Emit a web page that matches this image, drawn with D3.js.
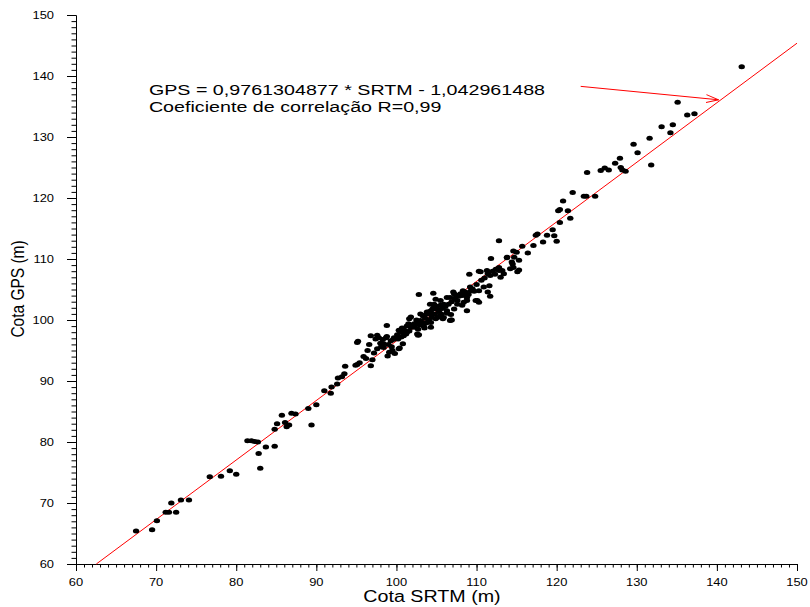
<!DOCTYPE html>
<html>
<head>
<meta charset="utf-8">
<script src="https://cdn.jsdelivr.net/npm/d3@7"></script>
<style>
  body { margin: 0; background: #fff; }
  text { font-family: "Liberation Sans", Arial, sans-serif; fill: #000; }
</style>
</head>
<body>
<script>
var w = 810;
var h = 607;

// tick values
var xMajor = [60, 70, 80, 90, 100, 110, 120, 130, 140, 150];
var yMajor = [60, 70, 80, 90, 100, 110, 120, 130, 140, 150];

// regression
var slope = 0.9761304877;
var intercept = -1.042961488;
var eqText = "GPS = 0,9761304877 * SRTM - 1,042961488";
var rText = "Coeficiente de correlação R=0,99";

// points (SRTM, GPS)
var srtm = [67.5, 69.5, 70.1, 71.2, 71.6, 71.9, 72.5, 73.1, 74.1, 76.7, 78.1, 79.2, 80.0, 81.4, 81.9, 82.3, 82.7, 82.8, 83.0, 83.7,
  84.8, 84.8, 85.1, 85.7, 86.1, 86.3, 86.6, 86.9, 87.4, 89.0, 89.4, 90.0, 91.0, 91.8, 91.9, 92.6, 92.7, 93.2, 93.5, 93.6,
  94.9, 95.1, 95.4, 95.9, 96.2, 96.4, 96.8, 97.0, 95.2, 95.1, 96.8, 97.4, 97.6, 97.8, 98.0, 98.3, 98.7, 98.4, 98.8, 99.3,
  99.7, 100.1, 100.5, 100.9, 101.2, 99.4, 99.1, 99.8, 100.4, 100.8, 98.8, 98.4, 98.9, 99.5, 100.3, 100.3, 100.7, 101.3, 101.8, 101.5,
  101.6, 102.2, 102.7, 102.4, 103.0, 103.3, 103.7, 103.5, 104.0, 104.3, 104.7, 104.5, 104.9, 105.1, 102.8, 104.6, 104.9, 104.2, 105.5, 105.9,
  106.3, 106.3, 106.8, 106.9, 105.5, 105.8, 105.1, 107.1, 107.4, 107.6, 108.0, 108.3, 108.7, 108.8, 109.2, 109.7, 110.1, 109.1, 110.3, 101.8,
  102.2, 102.7, 102.8, 103.4, 104.1, 104.3, 104.9, 105.6, 105.9, 106.3, 106.8, 103.0, 103.8, 111.6, 111.4, 111.7, 110.9, 110.3, 109.9, 110.3,
  109.3, 108.8, 108.4, 107.2, 106.7, 105.5, 104.7, 104.3, 103.8, 103.4, 102.6, 101.3, 100.9, 106.7, 104.3, 102.6, 107.2, 107.6, 108.2, 108.8,
  110.5, 111.8, 113.8, 115.0, 112.8, 113.4, 114.2, 113.0, 115.1, 114.5, 111.3, 111.7, 112.4, 112.8, 113.2, 114.4, 114.6, 115.3, 114.7, 113.8,
  115.3, 112.8, 114.6, 115.7, 116.4, 117.1, 117.4, 117.6, 118.3, 118.8, 119.5, 119.7, 120.0, 120.4, 120.2, 120.4, 121.4, 121.7, 120.8, 122.0,
  123.4, 123.7, 124.8, 123.8, 125.5, 126.0, 126.5, 127.3, 127.9, 128.0, 128.2, 128.6, 129.6, 130.1, 131.6, 131.8, 133.1, 134.2, 134.5, 135.1,
  136.3, 137.2, 143.1, 99.0, 99.6, 100.2, 100.6, 101.0, 101.6, 102.0, 102.5, 102.9, 103.2, 103.6, 104.0, 104.4, 104.8, 105.3, 105.7, 106.1,
  106.5, 106.9, 107.3, 107.8, 108.2, 108.6, 109.0, 109.5, 110.0, 110.6, 111.0, 111.4, 112.0, 112.3, 97.2, 97.6, 98.1, 96.6];
var gps = [65.4, 65.6, 67.1, 68.5, 68.5, 70.0, 68.5, 70.5, 70.5, 74.3, 74.4, 75.3, 74.7, 80.2, 80.2, 80.1, 80.0, 78.1, 75.7, 79.2,
  79.3, 82.1, 83.0, 84.4, 83.2, 82.5, 82.8, 84.7, 84.6, 85.5, 82.8, 86.1, 88.4, 88.0, 89.0, 89.5, 90.5, 90.7, 91.2, 92.4,
  92.6, 92.7, 93.0, 94.0, 93.7, 95.0, 92.5, 93.5, 96.5, 96.3, 97.4, 96.9, 97.5, 97.1, 96.2, 96.8, 97.1, 96.1, 97.3, 96.6,
  97.1, 97.6, 98.0, 98.5, 97.7, 95.6, 94.7, 94.5, 95.4, 96.1, 99.1, 95.5, 94.1, 95.0, 95.3, 98.3, 98.7, 99.0, 98.8, 99.4,
  100.2, 98.8, 97.5, 99.3, 99.9, 100.7, 99.5, 98.7, 100.0, 101.0, 102.1, 101.8, 102.3, 101.8, 104.2, 104.4, 103.4, 102.6, 103.2, 102.6,
  103.7, 101.5, 100.9, 100.0, 100.7, 100.2, 100.4, 104.6, 104.1, 103.2, 104.3, 104.8, 104.0, 103.2, 105.4, 104.7, 103.2, 107.5, 108.0, 100.5,
  99.4, 98.5, 97.6, 99.0, 99.7, 98.8, 100.2, 101.0, 100.4, 101.1, 100.0, 101.0, 101.3, 105.6, 104.6, 103.9, 105.4, 104.8, 103.2, 102.9,
  104.8, 103.7, 102.9, 104.3, 103.7, 102.4, 102.6, 101.5, 101.0, 100.7, 99.6, 98.0, 97.4, 99.9, 99.6, 97.7, 101.8, 102.6, 102.4, 101.5,
  107.9, 110.1, 110.3, 111.1, 108.1, 107.6, 108.4, 107.0, 107.9, 109.2, 108.1, 107.3, 108.3, 108.6, 108.1, 109.5, 108.6, 109.8, 110.3, 110.2,
  108.2, 113.0, 111.3, 112.1, 111.0, 112.2, 113.9, 114.1, 112.8, 113.9, 114.8, 113.8, 112.9, 116.0, 117.9, 118.1, 117.9, 116.7, 119.5, 120.9,
  120.3, 120.3, 120.3, 124.2, 124.5, 124.9, 124.6, 125.7, 126.5, 125.0, 124.6, 124.4, 128.8, 127.4, 129.8, 125.4, 131.7, 130.7, 132.0, 135.7,
  133.6, 133.8, 141.5, 96.0, 96.8, 96.9, 97.2, 98.2, 98.2, 99.0, 100.0, 99.2, 99.6, 100.3, 101.3, 100.4, 101.0, 101.4, 101.9, 102.2,
  102.6, 103.0, 103.5, 103.9, 104.0, 104.6, 104.2, 105.1, 105.8, 106.5, 106.9, 107.6, 108.0, 107.5, 94.6, 95.3, 95.6, 96.0];

// annotation anchors, in data units
var arrowFrom = [123.0, 138.3];
var arrowTo = [140.2, 136.1];
var labelAt = [69.1, 136.95];

var stretch = 1.23; // the picture is wider than tall, text too
var noteSize = 14.8;
var noteStretch = 1.33;

var points = srtm.map(function(v, i) {
  return { x: v, y: gps[i] };
});

var svg = d3.select("body")
  .append("svg")
  .attr("width", w)
  .attr("height", h);

svg.append("rect")
  .attr("width", "100%")
  .attr("height", "100%")
  .attr("fill", "#fff");

var x = d3.scaleLinear().domain([60, 150]).range([76, 797]);
var y = d3.scaleLinear().domain([60, 150]).range([564, 15]);

// open arrow head
svg.append("defs").append("marker")
  .attr("id", "head")
  .attr("viewBox", "0 -5 13 10")
  .attr("refX", 12.5)
  .attr("refY", 0)
  .attr("markerWidth", 13)
  .attr("markerHeight", 10)
  .attr("markerUnits", "userSpaceOnUse")
  .attr("orient", "auto")
  .append("path")
  .attr("d", "M0,-4L12.5,0L0,4")
  .attr("fill", "none")
  .attr("stroke", "red")
  .attr("stroke-width", 1);

// minor + major ticks
var minorX = d3.range(60, 151, 1);
var minorY = d3.range(60, 151, 1);

function drawAxis(g) {
  g.selectAll("line").attr("stroke", "#000");
  g.selectAll("path").attr("stroke", "#000");
  g.selectAll("text").remove();
}

svg.append("g")
  .attr("transform", "translate(0," + y(60) + ")")
  .call(d3.axisBottom(x).tickValues(minorX).tickSize(3.5).tickSizeOuter(0).tickFormat(""))
  .call(drawAxis);
svg.append("g")
  .attr("transform", "translate(0," + y(60) + ")")
  .call(d3.axisBottom(x).tickValues(xMajor).tickSize(7).tickSizeOuter(0).tickFormat(""))
  .call(drawAxis);

svg.append("g")
  .attr("transform", "translate(" + x(60) + ",0)")
  .call(d3.axisLeft(y).tickValues(minorY).tickSize(4.5).tickSizeOuter(0).tickFormat(""))
  .call(drawAxis);
svg.append("g")
  .attr("transform", "translate(" + x(60) + ",0)")
  .call(d3.axisLeft(y).tickValues(yMajor).tickSize(9).tickSizeOuter(0).tickFormat(""))
  .call(drawAxis);

// tick labels (stretched like the source)
svg.selectAll(".xl")
  .data(xMajor)
  .enter()
  .append("text")
  .attr("class", "xl")
  .attr("transform", function(d) {
    return "translate(" + x(d) + "," + (y(60) + 21.5) + ") scale(" + stretch + ",1)";
  })
  .attr("text-anchor", "middle")
  .style("font-size", "10.5px")
  .text(function(d) { return d; });

svg.selectAll(".yl")
  .data(yMajor)
  .enter()
  .append("text")
  .attr("class", "yl")
  .attr("transform", function(d) {
    return "translate(54," + (y(d) + 3.7) + ") scale(" + stretch + ",1)";
  })
  .attr("text-anchor", "end")
  .style("font-size", "10.5px")
  .text(function(d) { return d; });

// axis titles
svg.append("text")
  .attr("transform", "translate(432,602) scale(" + stretch + ",1)")
  .attr("text-anchor", "middle")
  .style("font-size", "16px")
  .text("Cota SRTM (m)");

svg.append("text")
  .attr("transform", "translate(24,289) rotate(-90) scale(1," + stretch + ")")
  .attr("text-anchor", "middle")
  .style("font-size", "15.5px")
  .text("Cota GPS (m)");

// regression line, from where it enters the frame to the right edge
var xStart = (60 - intercept) / slope;
svg.append("line")
  .attr("x1", x(xStart))
  .attr("y1", y(slope * xStart + intercept))
  .attr("x2", x(150))
  .attr("y2", y(slope * 150 + intercept))
  .attr("stroke", "red")
  .attr("stroke-width", 1);

// points
svg.selectAll(".pt")
  .data(points)
  .enter()
  .append("ellipse")
  .attr("class", "pt")
  .attr("cx", function(d) { return x(d.x); })
  .attr("cy", function(d) { return y(d.y); })
  .attr("rx", 3.2)
  .attr("ry", 2.5)
  .attr("fill", "#000");

// annotation
svg.append("line")
  .attr("x1", x(arrowFrom[0]))
  .attr("y1", y(arrowFrom[1]))
  .attr("x2", x(arrowTo[0]))
  .attr("y2", y(arrowTo[1]))
  .attr("stroke", "red")
  .attr("stroke-width", 1)
  .attr("marker-end", "url(#head)");

svg.append("text")
  .attr("transform", "translate(" + x(labelAt[0]) + "," + y(labelAt[1]) + ") scale(" + noteStretch + ",1)")
  .style("font-size", noteSize + "px")
  .text(eqText);

svg.append("text")
  .attr("transform", "translate(" + x(labelAt[0]) + "," + (y(labelAt[1]) + 17.2) + ") scale(" + noteStretch + ",1)")
  .style("font-size", noteSize + "px")
  .text(rText);
</script>
</body>
</html>
